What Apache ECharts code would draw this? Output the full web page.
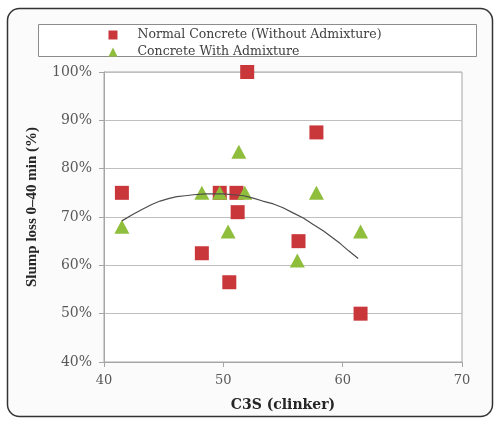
<!DOCTYPE html>
<html>
<head>
<meta charset="utf-8">
<script src="https://cdn.jsdelivr.net/npm/echarts@6/dist/echarts.min.js"></script>
<style>html,body{margin:0;padding:0;background:#fff;}#c{width:495px;height:421px;}</style>
</head>
<body>
<div id="c"></div>
<script>
// ---- data ----
var normalC3S   = [41.5, 52.0, 57.8, 49.7, 51.1, 51.2, 48.2, 50.5, 56.3, 61.5];
var normalSlump = [75.0, 100.0, 87.5, 75.0, 75.0, 71.0, 62.5, 56.5, 65.0, 50.0];
var admixC3S    = [41.5, 48.2, 49.7, 51.8, 51.3, 50.4, 57.8, 56.2, 61.5];
var admixSlump  = [68.0, 75.0, 75.0, 75.0, 83.5, 67.0, 75.0, 61.0, 67.0];
var trendC3S    = [41.5, 42.4, 43.3, 44.0, 44.7, 45.4, 46.1, 46.8, 47.5, 48.5, 49.3, 50.0, 50.8, 51.7, 52.5, 53.3, 54.2, 55.0, 55.8, 56.7, 57.5, 58.4, 59.1, 59.8, 60.5, 61.3];
var trendSlump  = [69.2, 70.5, 71.7, 72.6, 73.3, 73.8, 74.2, 74.4, 74.6, 74.8, 74.8, 74.8, 74.6, 74.4, 73.9, 73.3, 72.7, 71.9, 70.9, 69.8, 68.5, 67.1, 65.8, 64.5, 63.0, 61.4];
var xTicks = [40, 50, 60, 70];
var yTicks = [40, 50, 60, 70, 80, 90, 100];
var seriesNames = ['Normal Concrete (Without Admixture)', 'Concrete With Admixture'];
var xTitle = 'C3S (clinker)';
var yTitle = 'Slump loss 0\u201340 min (%)';

function pairs(a, b) { return a.map(function (v, i) { return [v, b[i]]; }); }

var chart = echarts.init(document.getElementById('c'), null, {renderer: 'canvas'});
var serif = '"DejaVu Serif", serif';
chart.setOption({
  backgroundColor: '#ffffff',
  animation: false,
  graphic: [
    {type: 'rect', z: -10, shape: {x: 7.5, y: 8.5, width: 485, height: 408, r: 12},
     style: {fill: '#fbfbfb', stroke: '#333333', lineWidth: 1.5}},
    {type: 'rect', z: -5, shape: {x: 38.5, y: 24.5, width: 438, height: 32},
     style: {fill: '#ffffff', stroke: '#8c8c8c', lineWidth: 1}}
  ],
  legend: {
    orient: 'vertical', left: 108.5, top: 28, itemGap: 3, padding: 0,
    itemWidth: 9, itemHeight: 9,
    textStyle: {fontFamily: serif, fontSize: 12.5, color: '#404040', padding: [0, 0, 0, 15], lineHeight: 14},
    data: [{name: seriesNames[0], icon: 'rect'}, {name: seriesNames[1], icon: 'triangle'}]
  },
  grid: {left: 104, right: 33, top: 72, bottom: 59, show: true, borderColor: '#a6a6a6', borderWidth: 1, backgroundColor: '#ffffff'},
  xAxis: {
    type: 'value', min: xTicks[0], max: xTicks[xTicks.length - 1], interval: 10,
    name: xTitle, nameLocation: 'middle', nameGap: 36,
    nameTextStyle: {fontFamily: serif, fontWeight: 'bold', fontSize: 14, color: '#262626'},
    axisLine: {show: true, lineStyle: {color: '#a6a6a6'}},
    axisTick: {show: true, length: 5, lineStyle: {color: '#a6a6a6'}},
    axisLabel: {fontFamily: serif, fontSize: 13, color: '#595959', margin: 12},
    splitLine: {show: false}
  },
  yAxis: {
    type: 'value', min: yTicks[0], max: yTicks[yTicks.length - 1], interval: 10,
    name: yTitle, nameLocation: 'middle', nameGap: 64, nameRotate: 90,
    nameTextStyle: {fontFamily: '"Liberation Serif", serif', fontWeight: 'bold', fontSize: 15, color: '#262626', padding: [0, 0, 0, 20]},
    axisLine: {show: true, lineStyle: {color: '#a6a6a6'}},
    axisTick: {show: true, length: 5, lineStyle: {color: '#a6a6a6'}},
    axisLabel: {fontFamily: serif, fontSize: 14, color: '#595959', margin: 12, formatter: '{value}%'},
    splitLine: {show: true, lineStyle: {color: '#bfbfbf', width: 1}}
  },
  series: [
    {name: seriesNames[0], type: 'scatter', symbol: 'rect', symbolSize: 14, z: 3,
     itemStyle: {color: '#c9373b', opacity: 1}, data: pairs(normalC3S, normalSlump)},
    {name: seriesNames[1], type: 'scatter', symbol: 'triangle', symbolSize: [15, 14], z: 4,
     itemStyle: {color: '#8fbd3c', opacity: 1}, data: pairs(admixC3S, admixSlump)},
    {name: 'trend', type: 'line', smooth: false, showSymbol: false, symbol: 'none', z: 5,
     lineStyle: {color: '#4d4d4d', width: 1.2}, data: pairs(trendC3S, trendSlump), silent: true}
  ]
});
</script>
</body>
</html>
